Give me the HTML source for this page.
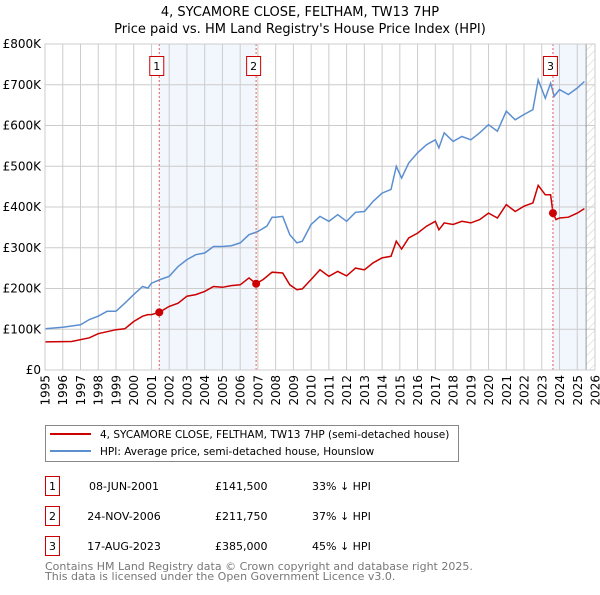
<!DOCTYPE html>
<html><head><meta charset="utf-8"><style>
body{margin:0;background:#fff;font-family:"Liberation Sans","DejaVu Sans",sans-serif;}
svg text{font-family:"DejaVu Sans","Liberation Sans",sans-serif;}
</style></head><body>
<svg id="chart" width="600" height="590" xmlns="http://www.w3.org/2000/svg">
<text x="300" y="16" text-anchor="middle" font-size="13">4, SYCAMORE CLOSE, FELTHAM, TW13 7HP</text>
<text x="300" y="33" text-anchor="middle" font-size="13">Price paid vs. HM Land Registry's House Price Index (HPI)</text>
<g id="plot"></g>
<g>
<rect x="45.5" y="425.5" width="413" height="36" fill="#fff" stroke="#888"/>
<line x1="50" y1="434" x2="91" y2="434" stroke="#cc0000" stroke-width="2"/>
<text x="100" y="438" font-size="10.5">4, SYCAMORE CLOSE, FELTHAM, TW13 7HP (semi-detached house)</text>
<line x1="50" y1="451" x2="91" y2="451" stroke="#5b8fd0" stroke-width="2"/>
<text x="100" y="455" font-size="10.5">HPI: Average price, semi-detached house, Hounslow</text>
</g>
<g font-size="11">
<rect x="45.5" y="476.5" width="14" height="19" fill="#fff" stroke="#cc0000"/><text x="52.5" y="490" text-anchor="middle">1</text>
<text x="124" y="490" text-anchor="middle">08-JUN-2001</text><text x="215" y="490">£141,500</text><text x="312" y="490">33% ↓ HPI</text>
<rect x="45.5" y="506.5" width="14" height="19" fill="#fff" stroke="#cc0000"/><text x="52.5" y="520" text-anchor="middle">2</text>
<text x="124" y="520" text-anchor="middle">24-NOV-2006</text><text x="215" y="520">£211,750</text><text x="312" y="520">37% ↓ HPI</text>
<rect x="45.5" y="536.5" width="14" height="19" fill="#fff" stroke="#cc0000"/><text x="52.5" y="550" text-anchor="middle">3</text>
<text x="124" y="550" text-anchor="middle">17-AUG-2023</text><text x="215" y="550">£385,000</text><text x="312" y="550">45% ↓ HPI</text>
</g>
<text x="45" y="570" font-size="11" fill="#777">Contains HM Land Registry data © Crown copyright and database right 2025.</text>
<text x="45" y="580" font-size="11" fill="#777">This data is licensed under the Open Government Licence v3.0.</text>
</svg>
<script>
const hpiYears=[1995,1996,1997,1997.5,1998,1998.5,1999,1999.5,2000,2000.5,2000.8,2001,2001.5,2002,2002.5,2003,2003.5,2004,2004.5,2005,2005.5,2006,2006.5,2007,2007.5,2007.8,2008,2008.4,2008.8,2009.2,2009.5,2010,2010.5,2011,2011.5,2012,2012.5,2013,2013.5,2014,2014.5,2014.8,2015.1,2015.5,2016,2016.5,2017,2017.2,2017.5,2018,2018.5,2019,2019.5,2020,2020.5,2021,2021.5,2022,2022.5,2022.8,2023.2,2023.5,2023.7,2024,2024.5,2025,2025.4];
const hpiValues=[101,105,111,124,132,144,144,164,185,205,201,213,222,230,254,271,283,287,303,303,305,312,332,340,353,375,375,377,332,312,316,357,377,365,381,365,387,389,414,434,443,500,471,508,533,553,565,545,582,561,573,565,582,602,586,635,614,627,639,712,667,704,672,688,676,692,708];
const ppYears=[1995,1996.5,1997.5,1998,1999,1999.5,2000,2000.5,2000.8,2001,2001.44,2002,2002.5,2003,2003.5,2004,2004.5,2005,2005.5,2006,2006.5,2006.9,2007.3,2007.8,2008.4,2008.8,2009.2,2009.5,2010,2010.5,2011,2011.5,2012,2012.5,2013,2013.5,2014,2014.5,2014.8,2015.1,2015.5,2016,2016.5,2017,2017.2,2017.5,2018,2018.5,2019,2019.5,2020,2020.5,2021,2021.5,2022,2022.5,2022.8,2023.2,2023.5,2023.63,2023.8,2024,2024.5,2025,2025.4];
const ppValues=[69,70,79,89,99,101,119,132,136,136,141.5,156,164,181,185,193,205,203,207,209,226,211.75,222,240,238,209,197,199,222,246,230,242,231,250,246,263,275,279,316,297,324,336,353,365,344,361,357,365,361,369,385,373,406,389,402,410,453,430,430,385,369,373,375,385,396];
const saleYears=[2001.44,2006.9,2023.63];
const saleValues=[141.5,211.75,385];
const saleLabels=["1","2","3"];
const yTicks=[0,100,200,300,400,500,600,700,800];
const yTickLabels=["£0","£100K","£200K","£300K","£400K","£500K","£600K","£700K","£800K"];
const xStart=1995,xEnd=2026,dataEnd=2025.5;
const L=45,R=595,T=44,B=370;
const X=y=>L+(y-xStart)/(xEnd-xStart)*(R-L);
const Y=v=>B-v/800*(B-T);
const NS="http://www.w3.org/2000/svg";
const g=document.getElementById('plot');
function el(t,a){const e=document.createElementNS(NS,t);for(const k in a)e.setAttribute(k,a[k]);g.appendChild(e);return e;}
const defs=el('defs',{});
defs.innerHTML='<pattern id="hatch" width="6" height="6" patternUnits="userSpaceOnUse" patternTransform="rotate(45)"><line x1="0" y1="0" x2="0" y2="6" stroke="#ccc" stroke-width="1"/></pattern>';
let s=el('rect',{x:X(saleYears[0]),y:T,width:X(saleYears[1])-X(saleYears[0]),height:B-T,fill:'#f2f6fd'});


s=el('rect',{x:X(saleYears[2]),y:T,width:X(dataEnd)-X(saleYears[2]),height:B-T,fill:'#f2f6fd'});


s=el('rect',{x:X(dataEnd),y:T,width:R-X(dataEnd),height:B-T,fill:'url(#hatch)'});


for(let yr=xStart;yr<=xEnd;yr++){
  const gl=el('line',{x1:X(yr),x2:X(yr),y1:T,y2:B,stroke:'#ccc','stroke-width':1});
  
  
  const t=el('text',{x:0,y:0,'font-size':12,'text-anchor':'end',transform:`translate(${X(yr)+4.5},${B+5}) rotate(-90)`});
  
  
  t.textContent=yr;
}
yTicks.forEach((v,i)=>{
  const gl=el('line',{x1:L,x2:R,y1:Y(v),y2:Y(v),stroke:'#ccc','stroke-width':1});
  
  
  const t=el('text',{x:L-4,y:Y(v)+4,'font-size':12,'text-anchor':'end'});
  
  
  t.textContent=yTickLabels[i];
});
const dl=el('line',{x1:X(dataEnd),x2:X(dataEnd),y1:T,y2:B,stroke:'#999','stroke-width':1});


function path(xs,vs){return xs.map((x,i)=>(i?'L':'M')+X(x).toFixed(1)+','+Y(vs[i]).toFixed(1)).join(' ');}
const hp=el('path',{d:path(hpiYears,hpiValues),fill:'none',stroke:'#5b8fd0','stroke-width':1.5});


const pp=el('path',{d:path(ppYears,ppValues),fill:'none',stroke:'#cc0000','stroke-width':1.5});


saleYears.forEach((yr,i)=>{
  const v=el('line',{x1:X(yr),x2:X(yr),y1:T,y2:B,stroke:'#e06060','stroke-width':1,'stroke-dasharray':'2,2'});
  
  
  const c=el('circle',{cx:X(yr),cy:Y(saleValues[i]),r:4,fill:'#cc0000'});
  
  
  const b=el('rect',{x:X(yr)-9.5,y:56.5,width:14,height:19,fill:'#fff',stroke:'#cc0000'});
  
  
  const t=el('text',{x:X(yr)-2.5,y:70,'font-size':11,'text-anchor':'middle'});
  
  
  t.textContent=saleLabels[i];
});
const fr=el('rect',{x:L,y:T,width:R-L,height:B-T,fill:'none',stroke:'#ccc'});


</script>
</body></html>
